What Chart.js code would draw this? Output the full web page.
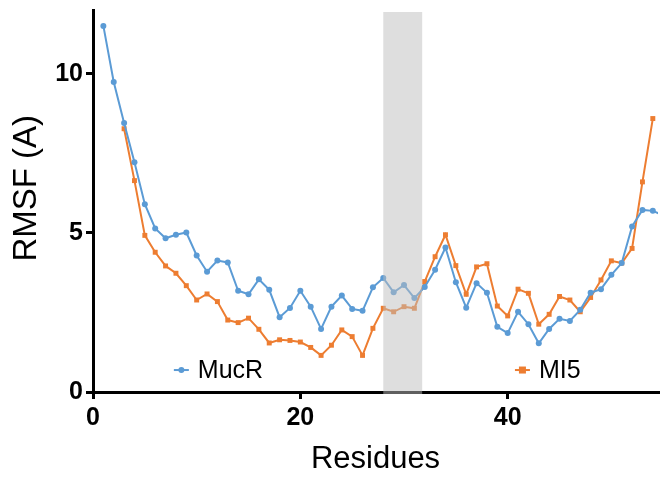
<!DOCTYPE html>
<html>
<head>
<meta charset="utf-8">
<script src="https://cdn.jsdelivr.net/npm/chart.js@4/dist/chart.umd.min.js"></script>
<style>
  body { margin: 0; background: #fff; }
  canvas { display: block; }
</style>
</head>
<body>
<canvas id="rmsfChart" width="662" height="479"></canvas>
<script>
// residue numbers
const mucrResidues = [1,2,3,4,5,6,7,8,9,10,11,12,13,14,15,16,17,18,19,20,21,22,23,24,25,26,27,28,29,30,31,32,33,34,35,36,37,38,39,40,41,42,43,44,45,46,47,48,49,50,51,52,53,54,55];
const mucrValues = [11.5,9.74,8.45,7.22,5.90,5.14,4.83,4.94,5.01,4.29,3.78,4.13,4.07,3.18,3.07,3.54,3.21,2.35,2.64,3.18,2.68,1.98,2.68,3.03,2.61,2.55,3.29,3.58,3.13,3.36,2.95,3.30,3.84,4.54,3.45,2.65,3.42,3.12,2.05,1.85,2.52,2.13,1.53,1.98,2.30,2.23,2.58,3.12,3.23,3.68,4.05,5.20,5.72,5.69,5.55];

const mi5Residues = [3,4,5,6,7,8,9,10,11,12,13,14,15,16,17,18,19,20,21,22,23,24,25,26,27,28,29,30,31,32,33,34,35,36,37,38,39,40,41,42,43,44,45,46,47,48,49,50,51,52,53,54];
const mi5Values = [8.27,6.64,4.92,4.39,3.96,3.73,3.34,2.89,3.08,2.84,2.26,2.18,2.32,1.97,1.54,1.64,1.62,1.57,1.40,1.15,1.47,1.95,1.74,1.15,2.00,2.63,2.52,2.68,2.63,3.47,4.25,4.94,3.97,3.07,3.93,4.03,2.70,2.39,3.23,3.10,2.13,2.44,3.00,2.89,2.52,2.97,3.52,4.12,4.05,4.51,6.60,8.59];

// highlighted region (residues)
const bandRange = [28.0, 31.75];

const xTicks = [0, 20, 40];
const yTicks = [0, 5, 10];

const BLUE = '#5b9bd5';
const ORANGE = '#ed7d31';
const FONT = 'Liberation Sans, Arial, sans-serif';

function toPoints(xs, ys) {
    const pts = [];
    for (let i = 0; i < xs.length; i++) {
        pts.push({ x: xs[i], y: ys[i] });
    }
    return pts;
}

// grey band drawn over everything, semi transparent
const bandPlugin = {
    id: 'band',
    afterDraw(chart) {
        const ctx = chart.ctx;
        const x = chart.scales.x;
        const area = chart.chartArea;
        const x0 = x.getPixelForValue(bandRange[0]);
        const x1 = x.getPixelForValue(bandRange[1]);
        ctx.save();
        ctx.fillStyle = 'rgba(190,190,190,0.5)';
        ctx.fillRect(x0, area.top + 2, x1 - x0, area.bottom - area.top);
        ctx.restore();
    }
};

// legend placed inside the plot, near the bottom; y title drawn by hand
const legendPlugin = {
    id: 'innerLegend',
    afterDatasetsDraw(chart) {
        const ctx = chart.ctx;
        const x = chart.scales.x;
        const y = chart.scales.y;
        const spots = [7.8, 40.7];
        const yPix = y.getPixelForValue(0.69);
        chart.data.datasets.forEach((ds, i) => {
            const left = x.getPixelForValue(spots[i]);
            ctx.save();
            ctx.strokeStyle = ds.borderColor;
            ctx.fillStyle = ds.borderColor;
            ctx.lineWidth = 2;
            ctx.beginPath();
            ctx.moveTo(left, yPix);
            ctx.lineTo(left + 15, yPix);
            ctx.stroke();
            if (ds.pointStyle === 'rect') {
                ctx.fillRect(left + 4, yPix - 3.5, 7, 7);
            } else {
                ctx.beginPath();
                ctx.arc(left + 7.5, yPix, 3, 0, Math.PI * 2);
                ctx.fill();
            }
            ctx.fillStyle = '#000';
            ctx.font = '25px ' + FONT;
            ctx.textBaseline = 'middle';
            ctx.fillText(ds.label, left + 24, yPix + 1);
            ctx.restore();
        });

        ctx.save();
        ctx.translate(27, y.getPixelForValue(6.4));
        ctx.rotate(-Math.PI / 2);
        ctx.fillStyle = '#000';
        ctx.font = '33px ' + FONT;
        ctx.textAlign = 'center';
        ctx.textBaseline = 'middle';
        ctx.fillText('RMSF (A)', 0, 0);
        ctx.restore();
    }
};

const ctx = document.getElementById('rmsfChart').getContext('2d');
new Chart(ctx, {
    type: 'line',
    data: {
        datasets: [{
            label: 'MucR',
            data: toPoints(mucrResidues, mucrValues),
            borderColor: BLUE,
            backgroundColor: BLUE,
            borderWidth: 2,
            pointStyle: 'circle',
            pointRadius: 3,
            pointBorderWidth: 0,
            tension: 0,
            fill: false
        }, {
            label: 'MI5',
            data: toPoints(mi5Residues, mi5Values),
            borderColor: ORANGE,
            backgroundColor: ORANGE,
            borderWidth: 2,
            pointStyle: 'rect',
            pointRadius: 3.5,
            pointBorderWidth: 0,
            tension: 0,
            fill: false
        }]
    },
    options: {
        responsive: false,
        devicePixelRatio: 1,
        animation: false,
        layout: { padding: { top: 10, right: 0, left: 0, bottom: 0 } },
        plugins: {
            legend: { display: false },
            tooltip: { enabled: false }
        },
        scales: {
            x: {
                type: 'linear',
                min: 0,
                max: 54.5,
                afterFit: s => { s.height = 87; s.paddingLeft = 0; s.paddingRight = 0; },
                afterBuildTicks: s => { s.ticks = xTicks.map(v => ({ value: v })); },
                ticks: {
                    includeBounds: false,
                    color: '#000',
                    font: { family: FONT, size: 25, weight: 'bold' },
                    padding: 4,
                    maxRotation: 0
                },
                grid: { drawOnChartArea: false, color: '#000', lineWidth: 3, tickLength: 7 },
                border: { color: '#000', width: 3 },
                title: {
                    display: true,
                    text: 'Residues',
                    color: '#000',
                    font: { family: FONT, size: 31 },
                    padding: { top: 0, bottom: 1 }
                }
            },
            y: {
                type: 'linear',
                min: 0,
                max: 12,
                afterFit: s => { s.width = 93; s.paddingTop = 0; s.paddingBottom = 0; },
                afterBuildTicks: s => { s.ticks = yTicks.map(v => ({ value: v })); },
                ticks: {
                    includeBounds: false,
                    color: '#000',
                    font: { family: FONT, size: 25, weight: 'bold' },
                    padding: 3
                },
                grid: { drawOnChartArea: false, color: '#000', lineWidth: 3, tickLength: 7 },
                border: { color: '#000', width: 3 },
                title: { display: false }
            }
        }
    },
    plugins: [bandPlugin, legendPlugin]
});
</script>
</body>
</html>
